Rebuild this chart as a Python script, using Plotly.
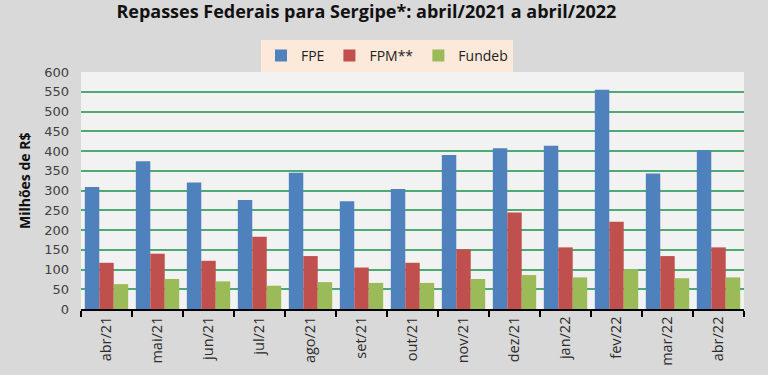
import plotly.graph_objects as go

months = ["abr/21", "mai/21", "jun/21", "jul/21", "ago/21", "set/21", "out/21",
          "nov/21", "dez/21", "jan/22", "fev/22", "mar/22", "abr/22"]
fpe = [309, 374, 320, 276, 345, 273, 304, 390, 407, 413, 555, 343, 402]
fpm = [117, 140, 122, 183, 134, 105, 117, 151, 244, 156, 221, 134, 156]
fundeb = [63, 76, 70, 59, 68, 66, 66, 76, 86, 80, 101, 78, 80]
y_ticks = list(range(0, 601, 50))

fig = go.Figure()
fig.add_trace(go.Bar(name="FPE", x=months, y=fpe, marker_color="#4f81bd", marker_line_width=0))
fig.add_trace(go.Bar(name="FPM**", x=months, y=fpm, marker_color="#c0504d", marker_line_width=0))
fig.add_trace(go.Bar(name="Fundeb", x=months, y=fundeb, marker_color="#9bbb59", marker_line_width=0))

fig.update_layout(
    width=768, height=375,
    margin=dict(l=81, r=24, t=72, b=66, autoexpand=False),
    paper_bgcolor="#d9d9d9",
    plot_bgcolor="#f2f2f2",
    barmode="group", bargap=0.15, bargroupgap=0,
    title=dict(text="<b>Repasses Federais para Sergipe*: abril/2021 a abril/2022</b>",
               font=dict(family="Open Sans", size=18, color="#111111"),
               x=0.477, xanchor="center", y=0.969, yanchor="middle", yref="container"),
    legend=dict(orientation="h", x=0.4615, xanchor="center", y=1.068, yanchor="middle",
                bgcolor="#fce9da", font=dict(family="Open Sans", size=14, color="#222222"),
                itemwidth=30, traceorder="normal"),
    showlegend=True,
    hovermode=False,
    font=dict(family="Open Sans", color="#333333"),
)
fig.update_xaxes(
    type="category", tickson="boundaries", ticks="outside", ticklen=6, tickwidth=1.5,
    tickcolor="#000000", showline=True, linecolor="#000000", linewidth=1.5,
    tickangle=-90, tickfont=dict(family="Open Sans", size=14.5, color="#2a2a2a"),
    showgrid=False, automargin=False,
)
fig.update_yaxes(
    range=[0, 600], tickvals=y_ticks, showgrid=True, gridcolor="#4caa72", gridwidth=2,
    zeroline=False, showline=False, ticks="", ticklabelstandoff=11,
    tickfont=dict(family="DejaVu Sans", size=13, color="#404040"), automargin=False,
)
fig.add_annotation(text="<b>Milhões de R$</b>", textangle=-90, showarrow=False,
                   xref="paper", yref="paper", x=-0.086, y=0.544,
                   xanchor="center", yanchor="middle",
                   font=dict(family="Open Sans", size=14, color="#111111"))

fig.write_html("out.html", config={"displayModeBar": False},
               post_script="document.body.style.margin='0px';")
